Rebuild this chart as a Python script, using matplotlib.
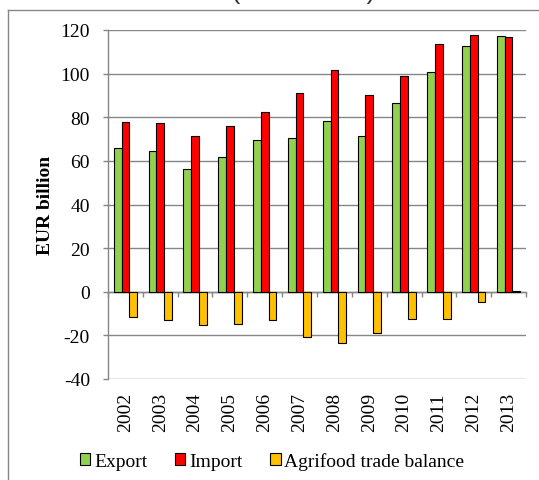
import matplotlib
matplotlib.use("Agg")
import matplotlib.pyplot as plt
import numpy as np
from matplotlib.lines import Line2D
from matplotlib.patches import Patch

years = ["2002", "2003", "2004", "2005", "2006", "2007", "2008", "2009", "2010", "2011", "2012", "2013"]
export = [66.0, 64.3, 56.4, 61.6, 69.7, 70.6, 78.1, 71.5, 86.5, 100.8, 112.6, 117.3]
imports = [77.6, 77.3, 71.5, 76.1, 82.5, 91.1, 101.8, 90.3, 99.0, 113.5, 117.5, 117.0]
balance = [-11.6, -13.0, -15.1, -14.8, -12.8, -20.6, -23.7, -18.9, -12.5, -12.5, -4.7, 0.3]
yticks = [-40, -20, 0, 20, 40, 60, 80, 100, 120]
series_names = ["Export", "Import", "Agrifood trade balance"]
colors = ["#92D050", "#FF0000", "#FFC000"]

plt.rcParams['font.family'] = ['Liberation Serif', 'DejaVu Serif']
plt.rcParams['font.size'] = 14

fig = plt.figure(figsize=(5.39, 4.81), dpi=100)
ax = fig.add_axes([108/539, 1-380/481, (526-108)/539, (380-31)/481])

grid_c = "#868686"
x = np.arange(len(years))
w = 0.224
for i, (vals, c) in enumerate(zip([export, imports, balance], colors)):
    ax.bar(x + (i-1)*w, vals, width=w, color=c, edgecolor="black", linewidth=0.8, zorder=3)

ax.set_xlim(-0.5, len(years)-0.5)
ax.set_ylim(-40, 120)
ax.set_yticks(yticks)
ax.set_yticklabels([str(v) for v in yticks])
ax.yaxis.grid(True, color=grid_c, linewidth=1.0, zorder=0)
ax.set_axisbelow(True)

for s in ["top", "right", "bottom"]:
    ax.spines[s].set_visible(False)
ax.spines["left"].set_color(grid_c)
ax.spines["left"].set_linewidth(1.0)
ax.tick_params(axis="y", length=3.6, width=1.0, color=grid_c, pad=9.4)

ax.set_xticks(x)
ax.set_xticklabels(years, rotation=90)
ax.tick_params(axis="x", length=0, pad=9.4)

ax.set_ylabel("EUR billion", fontweight="bold", labelpad=5)

# category axis crossing at zero
sec = ax.secondary_xaxis(40/160)
sec.set_xticks(np.arange(len(years)+1) - 0.5)
sec.set_xticklabels([])
sec.spines["bottom"].set_color(grid_c)
sec.spines["bottom"].set_linewidth(1.0)
sec.tick_params(axis="x", direction="out", length=3.6, width=1.0, color=grid_c)
for s in ["top", "left", "right"]:
    if s in sec.spines:
        sec.spines[s].set_visible(False)

handles = [Patch(facecolor=c, edgecolor="black", linewidth=0.8) for c in colors]
fig.legend(handles, series_names, loc="center", bbox_to_anchor=(272/539, 1-462/481),
           ncol=3, frameon=False, handlelength=0.55, handleheight=0.55,
           handletextpad=0.2, columnspacing=1.4, borderaxespad=0, borderpad=0)

# outer frame (cropped)
fig.add_artist(Line2D([8/539, 1.0], [1-10.5/481, 1-10.5/481], transform=fig.transFigure,
                      color=grid_c, linewidth=1.0))
fig.add_artist(Line2D([8/539, 8/539], [1-10.5/481, 0.0], transform=fig.transFigure,
                      color=grid_c, linewidth=1.0))

# cropped title (only its lower edge is visible in the reference)
fig.text(270/539, 1+1.5/481, "trade (2002-2013)", ha="center", va="baseline",
         fontsize=19, family=["Liberation Sans", "DejaVu Sans"], color="#333333")

fig.savefig("out.png", dpi=100)
